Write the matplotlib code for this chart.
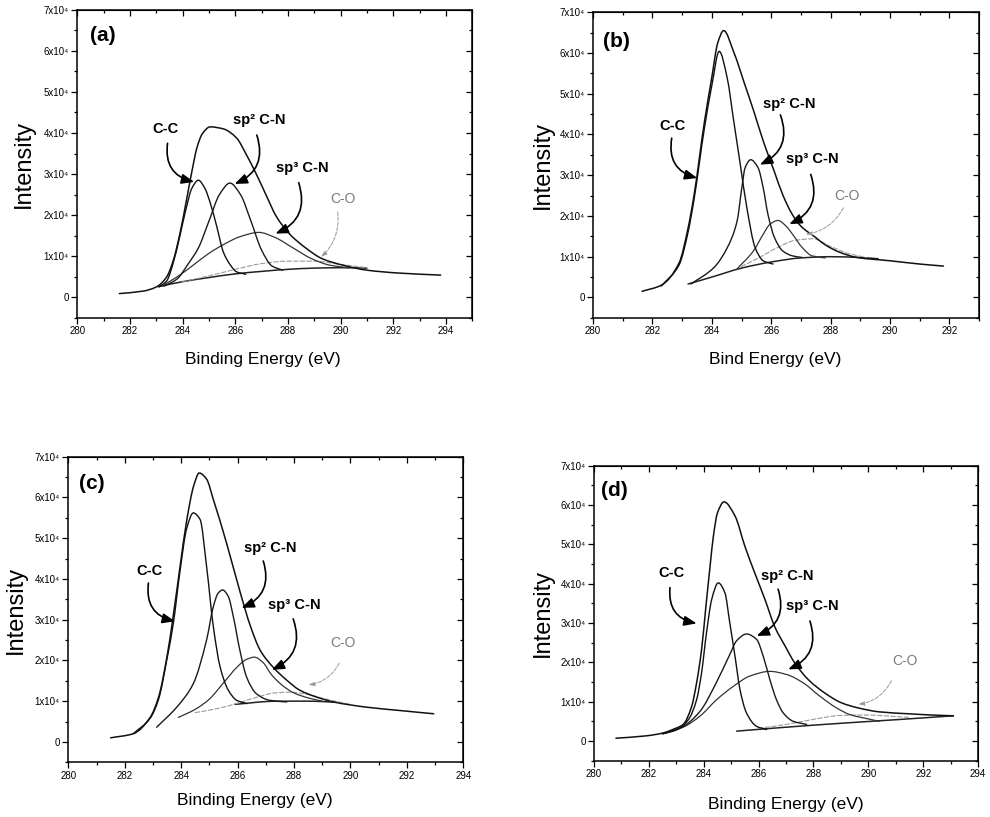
import matplotlib
matplotlib.use("Agg")
import matplotlib.pyplot as plt
from matplotlib.ticker import MultipleLocator, FuncFormatter
from matplotlib.path import Path
from matplotlib.patches import PathPatch

plt.rcParams['font.family'] = ['Liberation Sans', 'DejaVu Sans']

# intensities in units of 1x10^4 counts, binding energy in eV

# ---- panel (a)
a_env_x = [281.6, 282.5, 283.0, 283.4, 283.65, 283.9, 284.15, 284.35, 284.55, 284.75, 285.05,
           285.55, 286.05, 286.4, 286.8, 287.2, 287.55, 288.05, 288.7, 289.3, 290.1, 291.0, 292.2, 293.8]
a_env_y = [0.09, 0.15, 0.25, 0.5, 0.9, 1.55, 2.37, 3.05, 3.65, 3.98, 4.15,
           4.1, 3.88, 3.5, 3.0, 2.45, 1.98, 1.55, 1.19, 0.94, 0.78, 0.66, 0.59, 0.54]
a_cc_x = [283.1, 283.4, 283.65, 283.9, 284.15, 284.35, 284.6, 284.85, 285.05, 285.3, 285.55, 285.8, 286.05, 286.4]
a_cc_y = [0.25, 0.4, 0.85, 1.5, 2.2, 2.65, 2.85, 2.65, 2.3, 1.72, 1.1, 0.8, 0.62, 0.56]
a_sp2_x = [283.3, 283.8, 284.2, 284.6, 285.0, 285.4, 285.8, 286.2, 286.6, 287.0, 287.4, 287.8]
a_sp2_y = [0.27, 0.45, 0.8, 1.2, 1.85, 2.5, 2.78, 2.5, 1.85, 1.15, 0.76, 0.66]
a_sp3_x = [283.2, 283.8, 284.4, 285.0, 285.6, 286.2, 286.9, 287.5, 288.2, 288.9, 289.6, 290.3]
a_sp3_y = [0.27, 0.5, 0.78, 1.07, 1.3, 1.48, 1.58, 1.46, 1.2, 0.94, 0.78, 0.72]
a_co_x = [284.0, 285.0, 286.0, 287.0, 288.0, 289.0, 290.0, 291.0]
a_co_y = [0.38, 0.52, 0.68, 0.82, 0.88, 0.88, 0.8, 0.72]
a_bg_x = [283.1, 284.0, 285.0, 286.0, 287.0, 288.0, 289.0, 290.0, 291.0]
a_bg_y = [0.26, 0.38, 0.48, 0.57, 0.63, 0.68, 0.71, 0.72, 0.71]

# ---- panel (b)
b_env_x = [281.65, 282.3, 282.9, 283.2, 283.4, 283.75, 284.0, 284.2, 284.4, 284.75, 285.1, 285.4,
           285.75, 286.1, 286.4, 286.7, 287.0, 287.5, 287.8, 288.3, 288.9, 290.0, 291.0, 291.8]
b_env_y = [0.15, 0.3, 0.85, 1.7, 2.5, 4.3, 5.4, 6.25, 6.55, 6.0, 5.25, 4.6,
           3.8, 3.1, 2.5, 2.05, 1.75, 1.47, 1.3, 1.11, 0.98, 0.9, 0.82, 0.77]
b_cc_x = [282.3, 282.9, 283.2, 283.4, 283.75, 284.0, 284.25, 284.52, 284.74, 284.96, 285.18, 285.46, 285.73, 286.06]
b_cc_y = [0.28, 0.8, 1.6, 2.4, 4.15, 5.2, 6.04, 5.38, 4.32, 3.26, 2.2, 1.22, 0.9, 0.82]
b_sp2_x = [283.3, 284.08, 284.52, 284.85, 285.01, 285.12, 285.31, 285.56, 285.73, 285.89, 286.11, 286.39, 286.72, 287.05]
b_sp2_y = [0.33, 0.74, 1.22, 1.87, 2.69, 3.18, 3.38, 3.18, 2.69, 2.04, 1.47, 1.14, 1.02, 0.98]
b_sp3_x = [284.85, 285.4, 285.73, 285.95, 286.23, 286.5, 286.72, 287.05, 287.38, 287.82]
b_sp3_y = [0.7, 1.14, 1.55, 1.79, 1.89, 1.75, 1.55, 1.22, 1.02, 0.97]
b_co_x = [285.0, 285.6, 286.2, 286.8, 287.4, 288.0, 288.6, 289.2]
b_co_y = [0.76, 0.98, 1.22, 1.4, 1.44, 1.25, 1.08, 0.98]
b_bg_x = [283.2, 284.0, 285.0, 286.0, 287.0, 288.0, 289.0, 289.6]
b_bg_y = [0.33, 0.5, 0.72, 0.87, 0.97, 1.0, 0.98, 0.95]

# ---- panel (c)
c_env_x = [281.5, 282.3, 282.9, 283.2, 283.5, 283.7, 283.96, 284.2, 284.45, 284.64, 284.9, 285.14,
           285.6, 286.1, 286.45, 286.8, 287.25, 287.75, 288.2, 288.8, 289.4, 290.6, 291.75, 292.95]
c_env_y = [0.1, 0.2, 0.6, 1.1, 2.1, 3.0, 4.3, 5.45, 6.3, 6.6, 6.45, 5.95,
           4.9, 3.65, 2.85, 2.25, 1.84, 1.51, 1.27, 1.1, 0.98, 0.85, 0.77, 0.69]
c_cc_x = [282.3, 282.9, 283.2, 283.5, 283.72, 283.96, 284.2, 284.43, 284.67, 284.9, 285.14, 285.38, 285.67, 285.97, 286.32]
c_cc_y = [0.2, 0.58, 1.05, 2.05, 2.9, 4.2, 5.25, 5.62, 5.46, 4.31, 2.83, 1.84, 1.27, 1.02, 0.94]
c_sp2_x = [283.13, 283.84, 284.43, 284.9, 285.14, 285.31, 285.47, 285.67, 285.85, 286.08, 286.32, 286.67, 287.14, 287.74]
c_sp2_y = [0.36, 0.85, 1.43, 2.5, 3.32, 3.65, 3.73, 3.57, 3.07, 2.25, 1.59, 1.18, 1.02, 0.98]
c_sp3_x = [283.9, 284.5, 285.0, 285.5, 286.0, 286.3, 286.6, 286.9, 287.2, 287.6, 288.0, 288.5, 289.0]
c_sp3_y = [0.6, 0.8, 1.05, 1.45, 1.85, 2.02, 2.08, 1.95, 1.65, 1.38, 1.2, 1.08, 1.0]
c_co_x = [284.5, 285.3, 286.0, 286.7, 287.3, 287.9, 288.5, 289.2, 290.0]
c_co_y = [0.72, 0.82, 0.95, 1.1, 1.2, 1.22, 1.16, 1.04, 0.92]
c_bg_x = [285.9, 286.5, 287.0, 287.5, 288.0, 288.5, 289.0, 289.5]
c_bg_y = [0.92, 0.96, 0.99, 1.0, 1.0, 1.0, 0.99, 0.97]

# ---- panel (d)
d_env_x = [280.8, 281.9, 282.5, 282.9, 283.25, 283.56, 283.74, 283.92, 284.08, 284.23, 284.35, 284.5, 284.74,
           285.14, 285.5, 285.86, 286.23, 286.59, 286.96, 287.32, 287.81, 288.41, 289.02, 289.63, 290.4,
           291.5, 292.3, 293.1]
d_env_y = [0.07, 0.13, 0.2, 0.3, 0.42, 0.88, 1.48, 2.32, 3.43, 4.44, 5.2, 5.8, 6.08,
           5.72, 4.95, 4.27, 3.6, 2.9, 2.42, 1.98, 1.56, 1.22, 0.97, 0.84, 0.74,
           0.69, 0.66, 0.64]
d_cc_x = [282.5, 283.0, 283.44, 283.74, 283.92, 284.1, 284.29, 284.53, 284.77, 284.95, 285.14, 285.32, 285.56, 285.93, 286.29]
d_cc_y = [0.18, 0.28, 0.54, 1.05, 1.73, 2.75, 3.6, 4.02, 3.77, 3.0, 2.15, 1.31, 0.71, 0.37, 0.29]
d_sp2_x = [282.6, 283.25, 283.86, 284.47, 284.95, 285.2, 285.56, 285.93, 286.17, 286.41, 286.65, 286.9, 287.26, 287.75]
d_sp2_y = [0.2, 0.37, 0.75, 1.5, 2.2, 2.55, 2.72, 2.58, 2.15, 1.56, 1.05, 0.71, 0.5, 0.42]
d_sp3_x = [282.5, 283.25, 283.86, 284.47, 285.08, 285.68, 286.41, 287.02, 287.62, 288.23, 288.84, 289.33, 290.0, 290.4]
d_sp3_y = [0.18, 0.35, 0.63, 1.05, 1.39, 1.65, 1.77, 1.69, 1.48, 1.14, 0.84, 0.67, 0.56, 0.5]
d_co_x = [286.0, 287.0, 288.0, 289.0, 290.0, 291.0, 291.5]
d_co_y = [0.32, 0.42, 0.55, 0.65, 0.66, 0.62, 0.6]
d_bg_x = [285.2, 287.0, 289.0, 291.0, 293.1]
d_bg_y = [0.25, 0.35, 0.45, 0.54, 0.64]

panel_tags = ['(a)', '(b)', '(c)', '(d)']
x_titles = ['Binding Energy (eV)', 'Bind Energy (eV)', 'Binding Energy (eV)', 'Binding Energy (eV)']
x_max = [295, 293, 294, 294]

curves = [
    (a_env_x, a_env_y, a_cc_x, a_cc_y, a_sp2_x, a_sp2_y, a_sp3_x, a_sp3_y, a_co_x, a_co_y, a_bg_x, a_bg_y),
    (b_env_x, b_env_y, b_cc_x, b_cc_y, b_sp2_x, b_sp2_y, b_sp3_x, b_sp3_y, b_co_x, b_co_y, b_bg_x, b_bg_y),
    (c_env_x, c_env_y, c_cc_x, c_cc_y, c_sp2_x, c_sp2_y, c_sp3_x, c_sp3_y, c_co_x, c_co_y, c_bg_x, c_bg_y),
    (d_env_x, d_env_y, d_cc_x, d_cc_y, d_sp2_x, d_sp2_y, d_sp3_x, d_sp3_y, d_co_x, d_co_y, d_bg_x, d_bg_y),
]

# layout: axes rect, label positions, tag position, annotation (text pos, arrow start, arrow tip)
rects = [[0.078, 0.611, 0.399, 0.377], [0.599, 0.611, 0.390, 0.374],
         [0.069, 0.067, 0.399, 0.374], [0.600, 0.069, 0.388, 0.361]]
xlab_pos = [(0.471, -0.136), (0.473, -0.137), (0.473, -0.125), (0.499, -0.149)]
ylab_pos = [-0.134, -0.13, -0.132, -0.133]
tag_pos = [(280.98, 6.37), (280.79, 6.27), (280.83, 6.33), (280.74, 6.38)]
notes = [
    {'cc': ((283.37, 4.1), (283.43, 3.75), (284.44, 2.81)),
     'sp2': ((286.92, 4.32), (286.82, 3.95), (285.98, 2.76)),
     'sp3': ((288.55, 3.15), (288.41, 2.79), (287.53, 1.55)),
     'co': ((290.1, 2.39), (289.89, 2.08), (289.26, 0.98))},
    {'cc': ((282.67, 4.2), (282.65, 3.91), (283.51, 2.93)),
     'sp2': ((286.6, 4.76), (286.31, 4.48), (285.62, 3.26)),
     'sp3': ((287.39, 3.39), (287.33, 3.02), (286.61, 1.8)),
     'co': ((288.55, 2.49), (288.43, 2.2), (287.16, 1.55))},
    {'cc': ((282.87, 4.19), (282.84, 3.9), (283.78, 2.96)),
     'sp2': ((287.17, 4.75), (286.91, 4.44), (286.14, 3.29)),
     'sp3': ((288.0, 3.35), (287.97, 3.02), (287.21, 1.77)),
     'co': ((289.75, 2.42), (289.6, 1.93), (288.51, 1.4))},
    {'cc': ((282.83, 4.28), (282.77, 3.9), (283.74, 2.99)),
     'sp2': ((287.04, 4.2), (286.71, 3.86), (285.93, 2.67)),
     'sp3': ((287.95, 3.44), (287.87, 3.05), (287.08, 1.82)),
     'co': ((291.35, 2.04), (290.84, 1.53), (289.63, 0.93))},
]


def ytick(v, pos):
    n = int(round(v))
    return '0' if n == 0 else f'{n}x10⁴'


def spline_line(ax, xs, ys, **kw):
    # draw the read points joined by a smooth (monotone cubic) bezier path, like Origin's spline connect
    n = len(xs)
    h = [xs[k + 1] - xs[k] for k in range(n - 1)]
    d = [(ys[k + 1] - ys[k]) / h[k] for k in range(n - 1)]
    m = [d[0]] + [0.0] * (n - 2) + [d[-1]]
    for k in range(1, n - 1):
        if d[k - 1] * d[k] > 0:
            w1 = 2 * h[k] + h[k - 1]
            w2 = h[k] + 2 * h[k - 1]
            m[k] = (w1 + w2) / (w1 / d[k - 1] + w2 / d[k])
    verts = [(xs[0], ys[0])]
    codes = [Path.MOVETO]
    for k in range(n - 1):
        verts += [(xs[k] + h[k] / 3, ys[k] + m[k] * h[k] / 3),
                  (xs[k + 1] - h[k] / 3, ys[k + 1] - m[k + 1] * h[k] / 3),
                  (xs[k + 1], ys[k + 1])]
        codes += [Path.CURVE4] * 3
    ax.add_patch(PathPatch(Path(verts, codes), fill=False, capstyle='round', **kw))


fig = plt.figure(figsize=(9.9, 8.17), dpi=100)

for i in range(4):
    ax = fig.add_axes(rects[i])
    ex, ey, ccx, ccy, s2x, s2y, s3x, s3y, cox, coy, bgx, bgy = curves[i]

    spline_line(ax, bgx, bgy, edgecolor='#222222', lw=1.1)
    spline_line(ax, cox, coy, edgecolor='#9a9a9a', lw=0.8, linestyle=(0, (4, 2)))
    spline_line(ax, s3x, s3y, edgecolor='#333333', lw=0.9)
    spline_line(ax, s2x, s2y, edgecolor='#1a1a1a', lw=1.0)
    spline_line(ax, ccx, ccy, edgecolor='#111111', lw=1.0)
    spline_line(ax, ex, ey, edgecolor='#111111', lw=1.1)

    ax.set_xlim(280, x_max[i])
    ax.set_ylim(-0.5, 7)
    ax.xaxis.set_major_locator(MultipleLocator(2))
    ax.xaxis.set_minor_locator(MultipleLocator(1))
    ax.yaxis.set_major_locator(MultipleLocator(1))
    ax.yaxis.set_minor_locator(MultipleLocator(0.5))
    ax.yaxis.set_major_formatter(FuncFormatter(ytick))
    ax.tick_params(which='both', direction='out', labelsize=7, width=0.9)
    ax.tick_params(which='major', length=4, pad=2)
    ax.tick_params(which='minor', length=2.5)
    for s in ax.spines.values():
        s.set_linewidth(1.1)

    # mirrored ticks pointing inwards on top and right
    top = ax.secondary_xaxis('top')
    top.xaxis.set_major_locator(MultipleLocator(2))
    top.xaxis.set_minor_locator(MultipleLocator(1))
    top.tick_params(which='both', direction='in', labeltop=False, width=0.9)
    top.tick_params(which='major', length=4)
    top.tick_params(which='minor', length=2.5)
    right = ax.secondary_yaxis('right')
    right.yaxis.set_major_locator(MultipleLocator(1))
    right.yaxis.set_minor_locator(MultipleLocator(0.5))
    right.tick_params(which='both', direction='in', labelright=False, width=0.9)
    right.tick_params(which='major', length=4)
    right.tick_params(which='minor', length=2.5)

    ax.set_xlabel(x_titles[i], fontsize=12.5, va='center')
    ax.xaxis.set_label_coords(*xlab_pos[i])
    ax.set_ylabel('Intensity', fontsize=17, va='center')
    ax.yaxis.set_label_coords(ylab_pos[i], 0.5)

    ax.text(*tag_pos[i], panel_tags[i], fontsize=15, fontweight='bold', ha='center', va='center')

    nt = notes[i]
    for key, label, rad in [('cc', 'C-C', 0.45), ('sp2', 'sp² C-N', -0.45), ('sp3', 'sp³ C-N', -0.45)]:
        tpos, start, tip = nt[key]
        ax.text(*tpos, label, fontsize=10.5, fontweight='bold', ha='center', va='center')
        ax.annotate('', xy=tip, xytext=start,
                    arrowprops=dict(arrowstyle='-|>,head_length=0.75,head_width=0.3',
                                    connectionstyle=f'arc3,rad={rad}', color='black',
                                    lw=1.2, shrinkA=0, shrinkB=0))
    tpos, start, tip = nt['co']
    ax.text(*tpos, 'C-O', fontsize=10, color='#7a7a7a', ha='center', va='center')
    ax.annotate('', xy=tip, xytext=start,
                arrowprops=dict(arrowstyle='-|>,head_length=0.35,head_width=0.12',
                                connectionstyle='arc3,rad=-0.25', color='#9a9a9a',
                                lw=0.7, ls='--', shrinkA=0, shrinkB=0))

fig.savefig('out.png', dpi=100, facecolor='white')
